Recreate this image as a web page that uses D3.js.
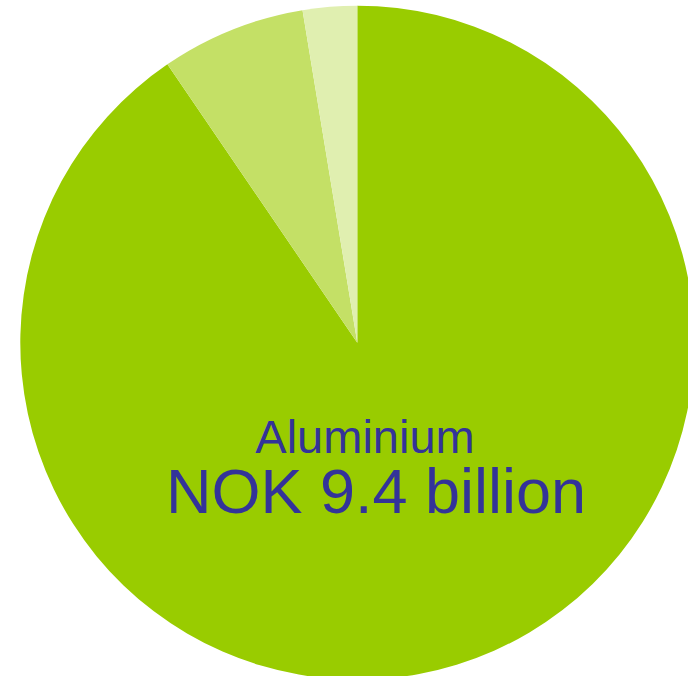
<!DOCTYPE html>
<html>
<head>
<meta charset="utf-8">
<script src="https://cdn.jsdelivr.net/npm/d3@7"></script>
<style>
  html, body { margin: 0; padding: 0; background: #ffffff; }
  svg { display: block; }
</style>
</head>
<body>
<svg id="chart" width="688" height="676"></svg>
<script>
// Export values, NOK billion
const categories = ["Aluminium", "Other metals", "Other"];
const values = [9.4, 0.72, 0.27];
const colors = ["#99cc00", "#c4e066", "#e0efb0"];

const labelName = "Aluminium";
const labelValue = "NOK 9.4 billion";

const svg = d3.select("#chart");
const cx = 357.3, cy = 342.7, radius = 337;

const pie = d3.pie().sort(null).value(d => d.value);
const arc = d3.arc().innerRadius(0).outerRadius(radius);

const data = categories.map((c, i) => ({ name: c, value: values[i], color: colors[i] }));

const g = svg.append("g").attr("transform", `translate(${cx},${cy})`);

g.selectAll("path")
  .data(pie(data))
  .join("path")
  .attr("d", arc)
  .attr("fill", d => d.data.color);

// Label for the largest slice
svg.append("text")
  .attr("x", 365)
  .attr("y", 453)
  .attr("text-anchor", "middle")
  .attr("font-family", "'Liberation Sans', Arial, sans-serif")
  .attr("font-size", 47)
  .attr("fill", "#333399")
  .text(labelName);

svg.append("text")
  .attr("x", 376)
  .attr("y", 513)
  .attr("text-anchor", "middle")
  .attr("font-family", "'Liberation Sans', Arial, sans-serif")
  .attr("font-size", 63)
  .attr("fill", "#333399")
  .text(labelValue);
</script>
</body>
</html>
